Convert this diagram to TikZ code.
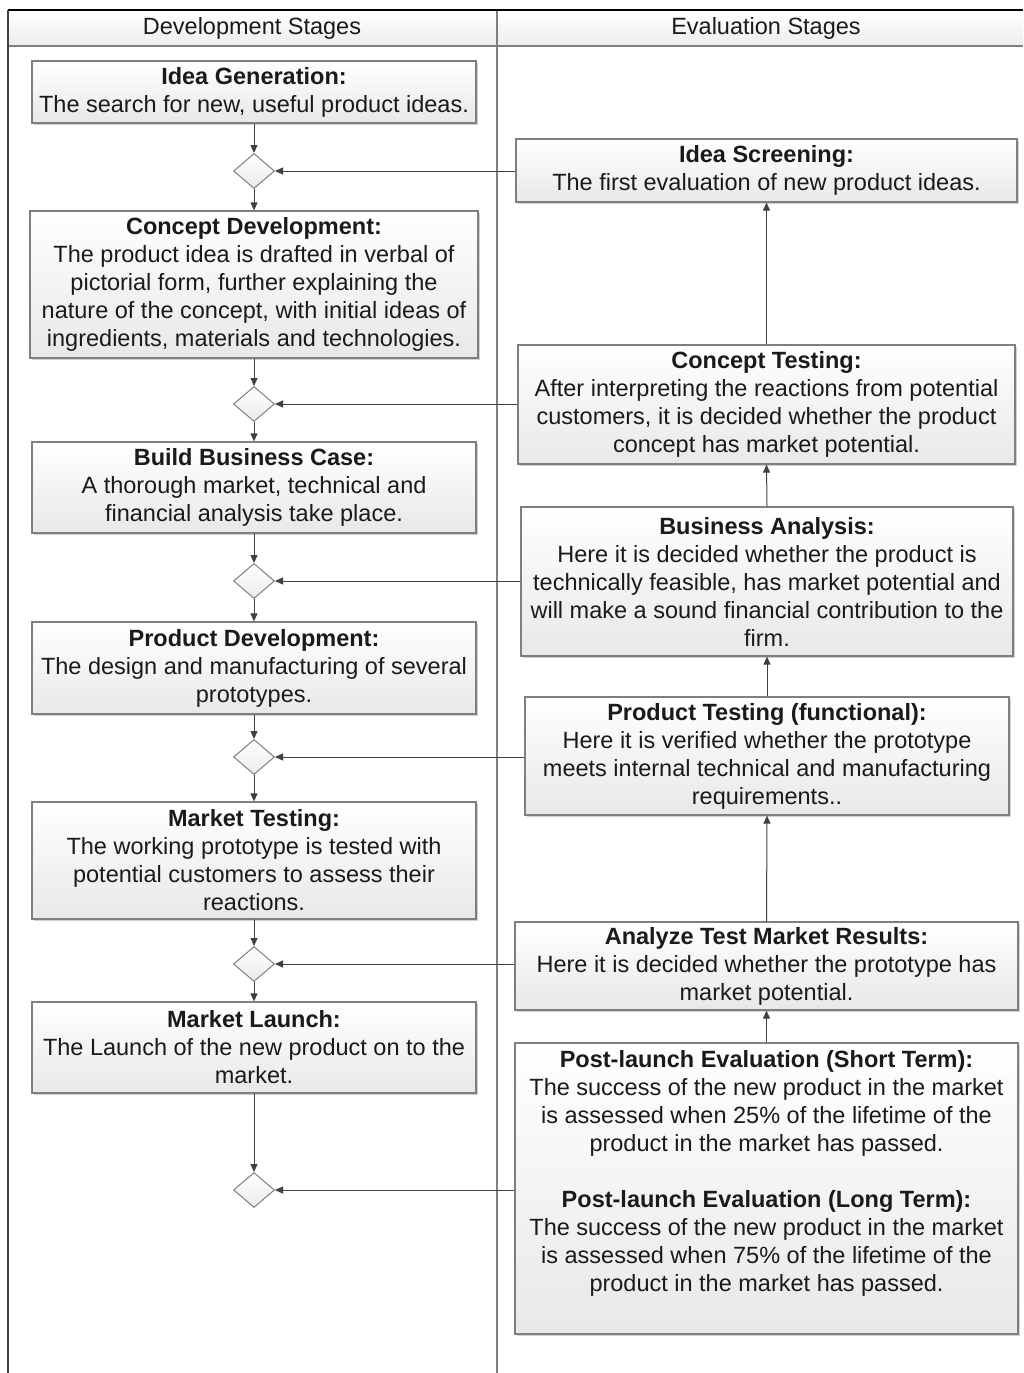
\documentclass[tikz,border=0pt]{standalone}
\usepackage{fontspec}
\setmainfont{Liberation Sans}
\usetikzlibrary{shapes.geometric,arrows.meta,shadows}
\definecolor{boxgray}{HTML}{7F7F7F}
\definecolor{arrgray}{HTML}{404040}
\definecolor{txt}{HTML}{1A1A1A}
\newcommand\stagefont{\fontsize{23.5}{28}\selectfont}
\begin{document}
\begin{tikzpicture}[x=1pt,y=-1pt,
  stagebox/.style={draw=boxgray, line width=1.2pt, top color=white, bottom color=black!9,
    text=txt, align=center, inner sep=0pt, font=\stagefont,
    drop shadow={shadow xshift=1.5pt, shadow yshift=-1.5pt, fill=black!40, opacity=0.45}},
  gate/.style={shape=diamond, draw=boxgray, line width=1pt, top color=white, bottom color=black!8,
    minimum width=41pt, minimum height=35pt, inner sep=0pt},
  arr/.style={draw=arrgray, line width=1pt, -{Triangle[length=8pt,width=7pt]}},
  hdr/.style={font=\stagefont, text=txt}]
\useasboundingbox (0,0) rectangle (1023,1373);
% swimlane frame
\shade[top color=white, bottom color=black!7] (8,10) rectangle (1023,46);
\draw[boxgray, line width=1.2pt] (8,46) -- (1023,46);
\draw[boxgray, line width=1.2pt] (497,10) -- (497,1373);
\draw[arrgray, line width=1.5pt] (8,10) -- (8,1373);
\draw[black, line width=1.6pt] (8,10) -- (1023,10);
\node[hdr] (hdev) at (252,28) {Development Stages};
\node[hdr] (heval) at (766,28) {Evaluation Stages};
% development stages
\node[stagebox, minimum width=444pt, minimum height=62pt] (ig) at (254,92)
  {\textbf{Idea Generation:}\\The search for new, useful product ideas.};
\node[stagebox, minimum width=448pt, minimum height=147pt] (cd) at (254,284.5)
  {\textbf{Concept Development:}\\The product idea is drafted in verbal of\\pictorial form, further explaining the\\nature of the concept, with initial ideas of\\ingredients, materials and technologies.};
\node[stagebox, minimum width=444pt, minimum height=91pt] (bc) at (254,487.5)
  {\textbf{Build Business Case:}\\A thorough market, technical and\\financial analysis take place.};
\node[stagebox, minimum width=444pt, minimum height=92pt] (pd) at (254,668)
  {\textbf{Product Development:}\\The design and manufacturing of several\\prototypes.};
\node[stagebox, minimum width=444pt, minimum height=117pt] (mt) at (254,860.5)
  {\textbf{Market Testing:}\\The working prototype is tested with\\potential customers to assess their\\reactions.};
\node[stagebox, minimum width=444pt, minimum height=91pt] (ml) at (254,1047.5)
  {\textbf{Market Launch:}\\The Launch of the new product on to the\\market.};
% gates
\node[gate] (g1) at (254,171) {};
\node[gate] (g2) at (254,404) {};
\node[gate] (g3) at (254,581) {};
\node[gate] (g4) at (254,757) {};
\node[gate] (g5) at (254,964) {};
\node[gate] (g6) at (254,1190) {};
% evaluation stages
\node[stagebox, minimum width=501pt, minimum height=63pt] (is) at (766.5,170.5)
  {\textbf{Idea Screening:}\\The first evaluation of new product ideas.};
\node[stagebox, minimum width=497pt, minimum height=119pt] (ct) at (766.5,404.5)
  {\textbf{Concept Testing:}\\After interpreting the reactions from potential\\customers, it is decided whether the product\\concept has market potential.};
\node[stagebox, minimum width=492pt, minimum height=149pt] (ba) at (767,581.5)
  {\textbf{Business Analysis:}\\Here it is decided whether the product is\\technically feasible, has market potential and\\will make a sound financial contribution to the\\firm.};
\node[stagebox, minimum width=484pt, minimum height=118pt] (pt) at (767,756)
  {\textbf{Product Testing (functional):}\\Here it is verified whether the prototype\\meets internal technical and manufacturing\\requirements..};
\node[stagebox, minimum width=503pt, minimum height=88pt] (am) at (766.5,966)
  {\textbf{Analyze Test Market Results:}\\Here it is decided whether the prototype has\\market potential.};
\node[stagebox, minimum width=503pt, minimum height=291pt] (pl) at (766.5,1188.5) {};
\node[text=txt, align=center, inner sep=0pt, font=\stagefont] (pltxt) at (766.5,1173)
  {\textbf{Post-launch Evaluation (Short Term):}\\The success of the new product in the market\\is assessed when 25\% of the lifetime of the\\product in the market has passed.\\[28pt]\textbf{Post-launch Evaluation (Long Term):}\\The success of the new product in the market\\is assessed when 75\% of the lifetime of the\\product in the market has passed.};
% development flow
\draw[arr] (ig.south) -- (g1.north);
\draw[arr] (g1.south) -- (cd.north);
\draw[arr] (cd.south) -- (g2.north);
\draw[arr] (g2.south) -- (bc.north);
\draw[arr] (bc.south) -- (g3.north);
\draw[arr] (g3.south) -- (pd.north);
\draw[arr] (pd.south) -- (g4.north);
\draw[arr] (g4.south) -- (mt.north);
\draw[arr] (mt.south) -- (g5.north);
\draw[arr] (g5.south) -- (ml.north);
\draw[arr] (ml.south) -- (g6.north);
% evaluation flow
\draw[arr] (pl.north) -- (am.south);
\draw[arr] (am.north) -- (pt.south);
\draw[arr] (pt.north) -- (ba.south);
\draw[arr] (ba.north) -- (ct.south);
\draw[arr] (ct.north) -- (is.south);
% evaluation to gates
\draw[arr] (is.west |- g1.east) -- (g1.east);
\draw[arr] (ct.west |- g2.east) -- (g2.east);
\draw[arr] (ba.west |- g3.east) -- (g3.east);
\draw[arr] (pt.west |- g4.east) -- (g4.east);
\draw[arr] (am.west |- g5.east) -- (g5.east);
\draw[arr] (pl.west |- g6.east) -- (g6.east);
\end{tikzpicture}
\end{document}
